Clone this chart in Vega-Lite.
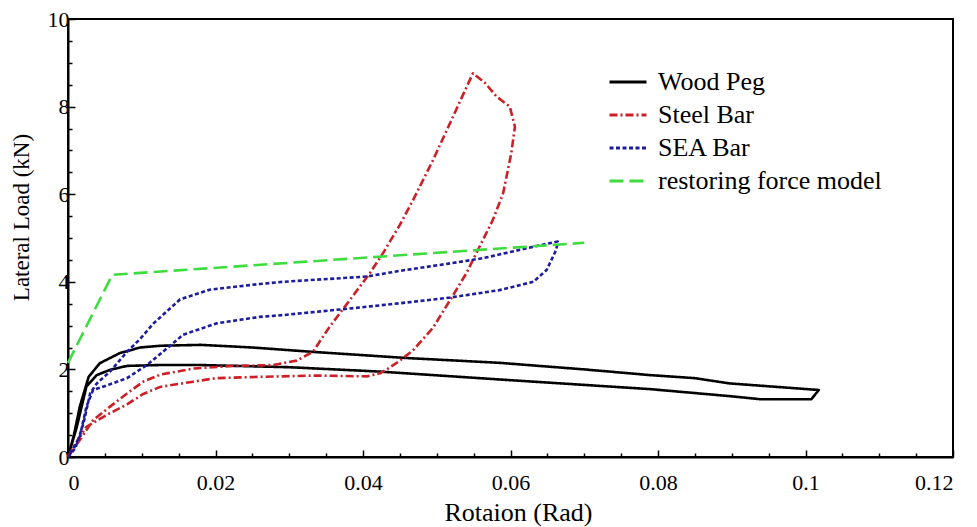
{
  "$schema": "https://vega.github.io/schema/vega-lite/v6.json",
  "autosize": "none",
  "width": 885,
  "height": 438,
  "padding": {"left": 68, "top": 19, "right": 24, "bottom": 70},
  "background": "white",
  "config": {
    "view": {"stroke": "black", "strokeWidth": 2},
    "font": "Liberation Serif",
    "axis": {"grid": false, "domainColor": "black", "domainWidth": 2, "tickColor": "black", "tickWidth": 1.5,
      "labelFont": "Liberation Serif", "labelFontSize": 22, "labelColor": "black",
      "titleFont": "Liberation Serif", "titleFontWeight": "normal", "titleColor": "black", "labelOverlap": false},
    "legend": {"labelFont": "Liberation Serif", "labelLimit": 400}
  },
  "datasets": {
    "curves": [
      {"series": "Wood Peg", "step": 0, "rot": 0, "load": 0},
      {"series": "Wood Peg", "step": 1, "rot": 0.0008, "load": 0.5},
      {"series": "Wood Peg", "step": 2, "rot": 0.0016, "load": 1.15},
      {"series": "Wood Peg", "step": 3, "rot": 0.0028, "load": 1.83},
      {"series": "Wood Peg", "step": 4, "rot": 0.0043, "load": 2.14},
      {"series": "Wood Peg", "step": 5, "rot": 0.007, "load": 2.37},
      {"series": "Wood Peg", "step": 6, "rot": 0.0098, "load": 2.5},
      {"series": "Wood Peg", "step": 7, "rot": 0.0125, "load": 2.54},
      {"series": "Wood Peg", "step": 8, "rot": 0.018, "load": 2.56},
      {"series": "Wood Peg", "step": 9, "rot": 0.025, "load": 2.5},
      {"series": "Wood Peg", "step": 10, "rot": 0.0332, "load": 2.4},
      {"series": "Wood Peg", "step": 11, "rot": 0.0459, "load": 2.26},
      {"series": "Wood Peg", "step": 12, "rot": 0.0585, "load": 2.15},
      {"series": "Wood Peg", "step": 13, "rot": 0.07, "load": 2.0},
      {"series": "Wood Peg", "step": 14, "rot": 0.0789, "load": 1.87},
      {"series": "Wood Peg", "step": 15, "rot": 0.085, "load": 1.8},
      {"series": "Wood Peg", "step": 16, "rot": 0.0897, "load": 1.68},
      {"series": "Wood Peg", "step": 17, "rot": 0.1018, "load": 1.53},
      {"series": "Wood Peg", "step": 18, "rot": 0.1008, "load": 1.32},
      {"series": "Wood Peg", "step": 19, "rot": 0.0938, "load": 1.32},
      {"series": "Wood Peg", "step": 20, "rot": 0.0897, "load": 1.39},
      {"series": "Wood Peg", "step": 21, "rot": 0.0789, "load": 1.55},
      {"series": "Wood Peg", "step": 22, "rot": 0.0585, "load": 1.77},
      {"series": "Wood Peg", "step": 23, "rot": 0.0423, "load": 1.95},
      {"series": "Wood Peg", "step": 24, "rot": 0.03, "load": 2.05},
      {"series": "Wood Peg", "step": 25, "rot": 0.0179, "load": 2.1},
      {"series": "Wood Peg", "step": 26, "rot": 0.0125, "load": 2.1},
      {"series": "Wood Peg", "step": 27, "rot": 0.008, "load": 2.08},
      {"series": "Wood Peg", "step": 28, "rot": 0.0057, "load": 1.99},
      {"series": "Wood Peg", "step": 29, "rot": 0.0039, "load": 1.87},
      {"series": "Wood Peg", "step": 30, "rot": 0.0025, "load": 1.61},
      {"series": "Wood Peg", "step": 31, "rot": 0.0012, "load": 0.69},
      {"series": "Wood Peg", "step": 32, "rot": 0, "load": 0},

      {"series": "Steel Bar", "step": 0, "rot": 0, "load": 0},
      {"series": "Steel Bar", "step": 1, "rot": 0.0008, "load": 0.2},
      {"series": "Steel Bar", "step": 2, "rot": 0.0016, "load": 0.39},
      {"series": "Steel Bar", "step": 3, "rot": 0.0034, "load": 0.84},
      {"series": "Steel Bar", "step": 4, "rot": 0.0057, "load": 1.15},
      {"series": "Steel Bar", "step": 5, "rot": 0.008, "load": 1.45},
      {"series": "Steel Bar", "step": 6, "rot": 0.0102, "load": 1.72},
      {"series": "Steel Bar", "step": 7, "rot": 0.0125, "load": 1.88},
      {"series": "Steel Bar", "step": 8, "rot": 0.017, "load": 2.02},
      {"series": "Steel Bar", "step": 9, "rot": 0.0224, "load": 2.08},
      {"series": "Steel Bar", "step": 10, "rot": 0.0278, "load": 2.1},
      {"series": "Steel Bar", "step": 11, "rot": 0.031, "load": 2.2},
      {"series": "Steel Bar", "step": 12, "rot": 0.0332, "load": 2.4},
      {"series": "Steel Bar", "step": 13, "rot": 0.0355, "load": 2.98},
      {"series": "Steel Bar", "step": 14, "rot": 0.0382, "load": 3.58},
      {"series": "Steel Bar", "step": 15, "rot": 0.0409, "load": 4.19},
      {"series": "Steel Bar", "step": 16, "rot": 0.0427, "load": 4.65},
      {"series": "Steel Bar", "step": 17, "rot": 0.045, "load": 5.3},
      {"series": "Steel Bar", "step": 18, "rot": 0.0468, "load": 5.87},
      {"series": "Steel Bar", "step": 19, "rot": 0.0495, "load": 6.78},
      {"series": "Steel Bar", "step": 20, "rot": 0.0522, "load": 7.77},
      {"series": "Steel Bar", "step": 21, "rot": 0.0549, "load": 8.76},
      {"series": "Steel Bar", "step": 22, "rot": 0.0565, "load": 8.55},
      {"series": "Steel Bar", "step": 23, "rot": 0.0581, "load": 8.23},
      {"series": "Steel Bar", "step": 24, "rot": 0.0599, "load": 8.0},
      {"series": "Steel Bar", "step": 25, "rot": 0.0606, "load": 7.54},
      {"series": "Steel Bar", "step": 26, "rot": 0.0601, "load": 6.93},
      {"series": "Steel Bar", "step": 27, "rot": 0.059, "load": 6.02},
      {"series": "Steel Bar", "step": 28, "rot": 0.0576, "load": 5.41},
      {"series": "Steel Bar", "step": 29, "rot": 0.0558, "load": 4.8},
      {"series": "Steel Bar", "step": 30, "rot": 0.054, "load": 4.19},
      {"series": "Steel Bar", "step": 31, "rot": 0.0518, "load": 3.58},
      {"series": "Steel Bar", "step": 32, "rot": 0.0495, "load": 2.95},
      {"series": "Steel Bar", "step": 33, "rot": 0.0468, "load": 2.44},
      {"series": "Steel Bar", "step": 34, "rot": 0.045, "load": 2.2},
      {"series": "Steel Bar", "step": 35, "rot": 0.0436, "load": 2.04},
      {"series": "Steel Bar", "step": 36, "rot": 0.0423, "load": 1.91},
      {"series": "Steel Bar", "step": 37, "rot": 0.0405, "load": 1.84},
      {"series": "Steel Bar", "step": 38, "rot": 0.0337, "load": 1.86},
      {"series": "Steel Bar", "step": 39, "rot": 0.026, "load": 1.83},
      {"series": "Steel Bar", "step": 40, "rot": 0.0201, "load": 1.8},
      {"series": "Steel Bar", "step": 41, "rot": 0.017, "load": 1.72},
      {"series": "Steel Bar", "step": 42, "rot": 0.0125, "load": 1.6},
      {"series": "Steel Bar", "step": 43, "rot": 0.0102, "load": 1.44},
      {"series": "Steel Bar", "step": 44, "rot": 0.008, "load": 1.2},
      {"series": "Steel Bar", "step": 45, "rot": 0.0057, "load": 1.0},
      {"series": "Steel Bar", "step": 46, "rot": 0.0025, "load": 0.69},
      {"series": "Steel Bar", "step": 47, "rot": 0.001, "load": 0.3},
      {"series": "Steel Bar", "step": 48, "rot": 0, "load": 0},

      {"series": "SEA Bar", "step": 0, "rot": 0, "load": 0},
      {"series": "SEA Bar", "step": 1, "rot": 0.001, "load": 0.2},
      {"series": "SEA Bar", "step": 2, "rot": 0.0021, "load": 0.77},
      {"series": "SEA Bar", "step": 3, "rot": 0.003, "load": 1.45},
      {"series": "SEA Bar", "step": 4, "rot": 0.0039, "load": 1.68},
      {"series": "SEA Bar", "step": 5, "rot": 0.0057, "load": 1.95},
      {"series": "SEA Bar", "step": 6, "rot": 0.008, "load": 2.4},
      {"series": "SEA Bar", "step": 7, "rot": 0.0098, "load": 2.7},
      {"series": "SEA Bar", "step": 8, "rot": 0.0116, "load": 3.05},
      {"series": "SEA Bar", "step": 9, "rot": 0.0152, "load": 3.6},
      {"series": "SEA Bar", "step": 10, "rot": 0.0192, "load": 3.82},
      {"series": "SEA Bar", "step": 11, "rot": 0.026, "load": 3.95},
      {"series": "SEA Bar", "step": 12, "rot": 0.0292, "load": 4.0},
      {"series": "SEA Bar", "step": 13, "rot": 0.0405, "load": 4.12},
      {"series": "SEA Bar", "step": 14, "rot": 0.045, "load": 4.25},
      {"series": "SEA Bar", "step": 15, "rot": 0.0518, "load": 4.42},
      {"series": "SEA Bar", "step": 16, "rot": 0.0563, "load": 4.54},
      {"series": "SEA Bar", "step": 17, "rot": 0.0631, "load": 4.8},
      {"series": "SEA Bar", "step": 18, "rot": 0.0664, "load": 4.92},
      {"series": "SEA Bar", "step": 19, "rot": 0.0662, "load": 4.73},
      {"series": "SEA Bar", "step": 20, "rot": 0.0649, "load": 4.27},
      {"series": "SEA Bar", "step": 21, "rot": 0.0631, "load": 4.0},
      {"series": "SEA Bar", "step": 22, "rot": 0.0585, "load": 3.81},
      {"series": "SEA Bar", "step": 23, "rot": 0.0518, "load": 3.64},
      {"series": "SEA Bar", "step": 24, "rot": 0.045, "load": 3.51},
      {"series": "SEA Bar", "step": 25, "rot": 0.0382, "load": 3.39},
      {"series": "SEA Bar", "step": 26, "rot": 0.0292, "load": 3.24},
      {"series": "SEA Bar", "step": 27, "rot": 0.026, "load": 3.2},
      {"series": "SEA Bar", "step": 28, "rot": 0.0201, "load": 3.05},
      {"series": "SEA Bar", "step": 29, "rot": 0.0156, "load": 2.79},
      {"series": "SEA Bar", "step": 30, "rot": 0.0125, "load": 2.35},
      {"series": "SEA Bar", "step": 31, "rot": 0.0107, "load": 2.1},
      {"series": "SEA Bar", "step": 32, "rot": 0.008, "load": 1.8},
      {"series": "SEA Bar", "step": 33, "rot": 0.0057, "load": 1.66},
      {"series": "SEA Bar", "step": 34, "rot": 0.0034, "load": 1.53},
      {"series": "SEA Bar", "step": 35, "rot": 0.0025, "load": 1.15},
      {"series": "SEA Bar", "step": 36, "rot": 0.0016, "load": 0.46},
      {"series": "SEA Bar", "step": 37, "rot": 0, "load": 0},

      {"series": "restoring force model", "step": 0, "rot": 0, "load": 2.15},
      {"series": "restoring force model", "step": 1, "rot": 0.006, "load": 4.16},
      {"series": "restoring force model", "step": 2, "rot": 0.07, "load": 4.89}
    ]
  },
  "data": {"name": "curves"},
  "mark": {"type": "line", "strokeWidth": 2.6, "strokeCap": "butt", "strokeJoin": "round"},
  "encoding": {
    "x": {"field": "rot", "type": "quantitative",
      "scale": {"domain": [0, 0.12], "nice": false, "zero": false},
      "axis": {"title": "Rotaion (Rad)", "titleFontSize": 26,
        "titleX": 450, "titleY": 63, "titleBaseline": "alphabetic", "titleAlign": "center", "titleAnchor": null,
        "values": [0,0.005,0.01,0.015,0.02,0.025,0.03,0.035,0.04,0.045,0.05,0.055,0.06,0.065,0.07,0.075,0.08,0.085,0.09,0.095,0.1,0.105,0.11,0.115,0.12],
        "labelExpr": "round(datum.value*1000) % 20 == 0 ? format(datum.value, '.2~f') : ''",
        "tickSize": {"condition": {"test": "round(datum.value*1000) % 20 == 0", "value": -7}, "value": -4},
        "labelPadding": 22}},
    "y": {"field": "load", "type": "quantitative",
      "scale": {"domain": [0, 10], "nice": false},
      "axis": {"title": "Lateral Load (kN)", "titleFontSize": 23,
        "titleX": -40, "titleY": 198, "titleBaseline": "alphabetic", "titleAlign": "center", "titleAngle": -90, "titleAnchor": null,
        "values": [0,0.5,1,1.5,2,2.5,3,3.5,4,4.5,5,5.5,6,6.5,7,7.5,8,8.5,9,9.5,10],
        "labelExpr": "round(datum.value*10) % 20 == 0 ? format(datum.value, 'd') : ''",
        "tickSize": {"condition": {"test": "round(datum.value*10) % 20 == 0", "value": -7}, "value": -4},
        "labelPadding": 6}},
    "color": {"field": "series", "type": "nominal",
      "scale": {"domain": ["Wood Peg", "Steel Bar", "SEA Bar", "restoring force model"], "range": ["#000000", "#cc2026", "#1c1c9e", "#3edc3e"]},
      "legend": {"title": null, "orient": "none", "legendX": 540, "legendY": 43, "symbolType": "stroke", "symbolSize": 1369, "symbolStrokeWidth": 3,
        "labelFontSize": 26, "labelColor": "black", "labelOffset": 10, "rowPadding": -5, "padding": 0, "labelLimit": 400}},
    "strokeDash": {"field": "series", "type": "nominal",
      "scale": {"domain": ["Wood Peg", "Steel Bar", "SEA Bar", "restoring force model"], "range": [[1, 0], [8, 3, 2, 3], [4, 2.5], [14, 6]]},
      "legend": {"title": null, "orient": "none", "legendX": 540, "legendY": 43, "symbolType": "stroke", "symbolSize": 1369, "symbolStrokeWidth": 3,
        "labelFontSize": 26, "labelColor": "black", "labelOffset": 10, "rowPadding": -5, "padding": 0, "labelLimit": 400}},
    "order": {"field": "step", "type": "quantitative"}
  }
}
